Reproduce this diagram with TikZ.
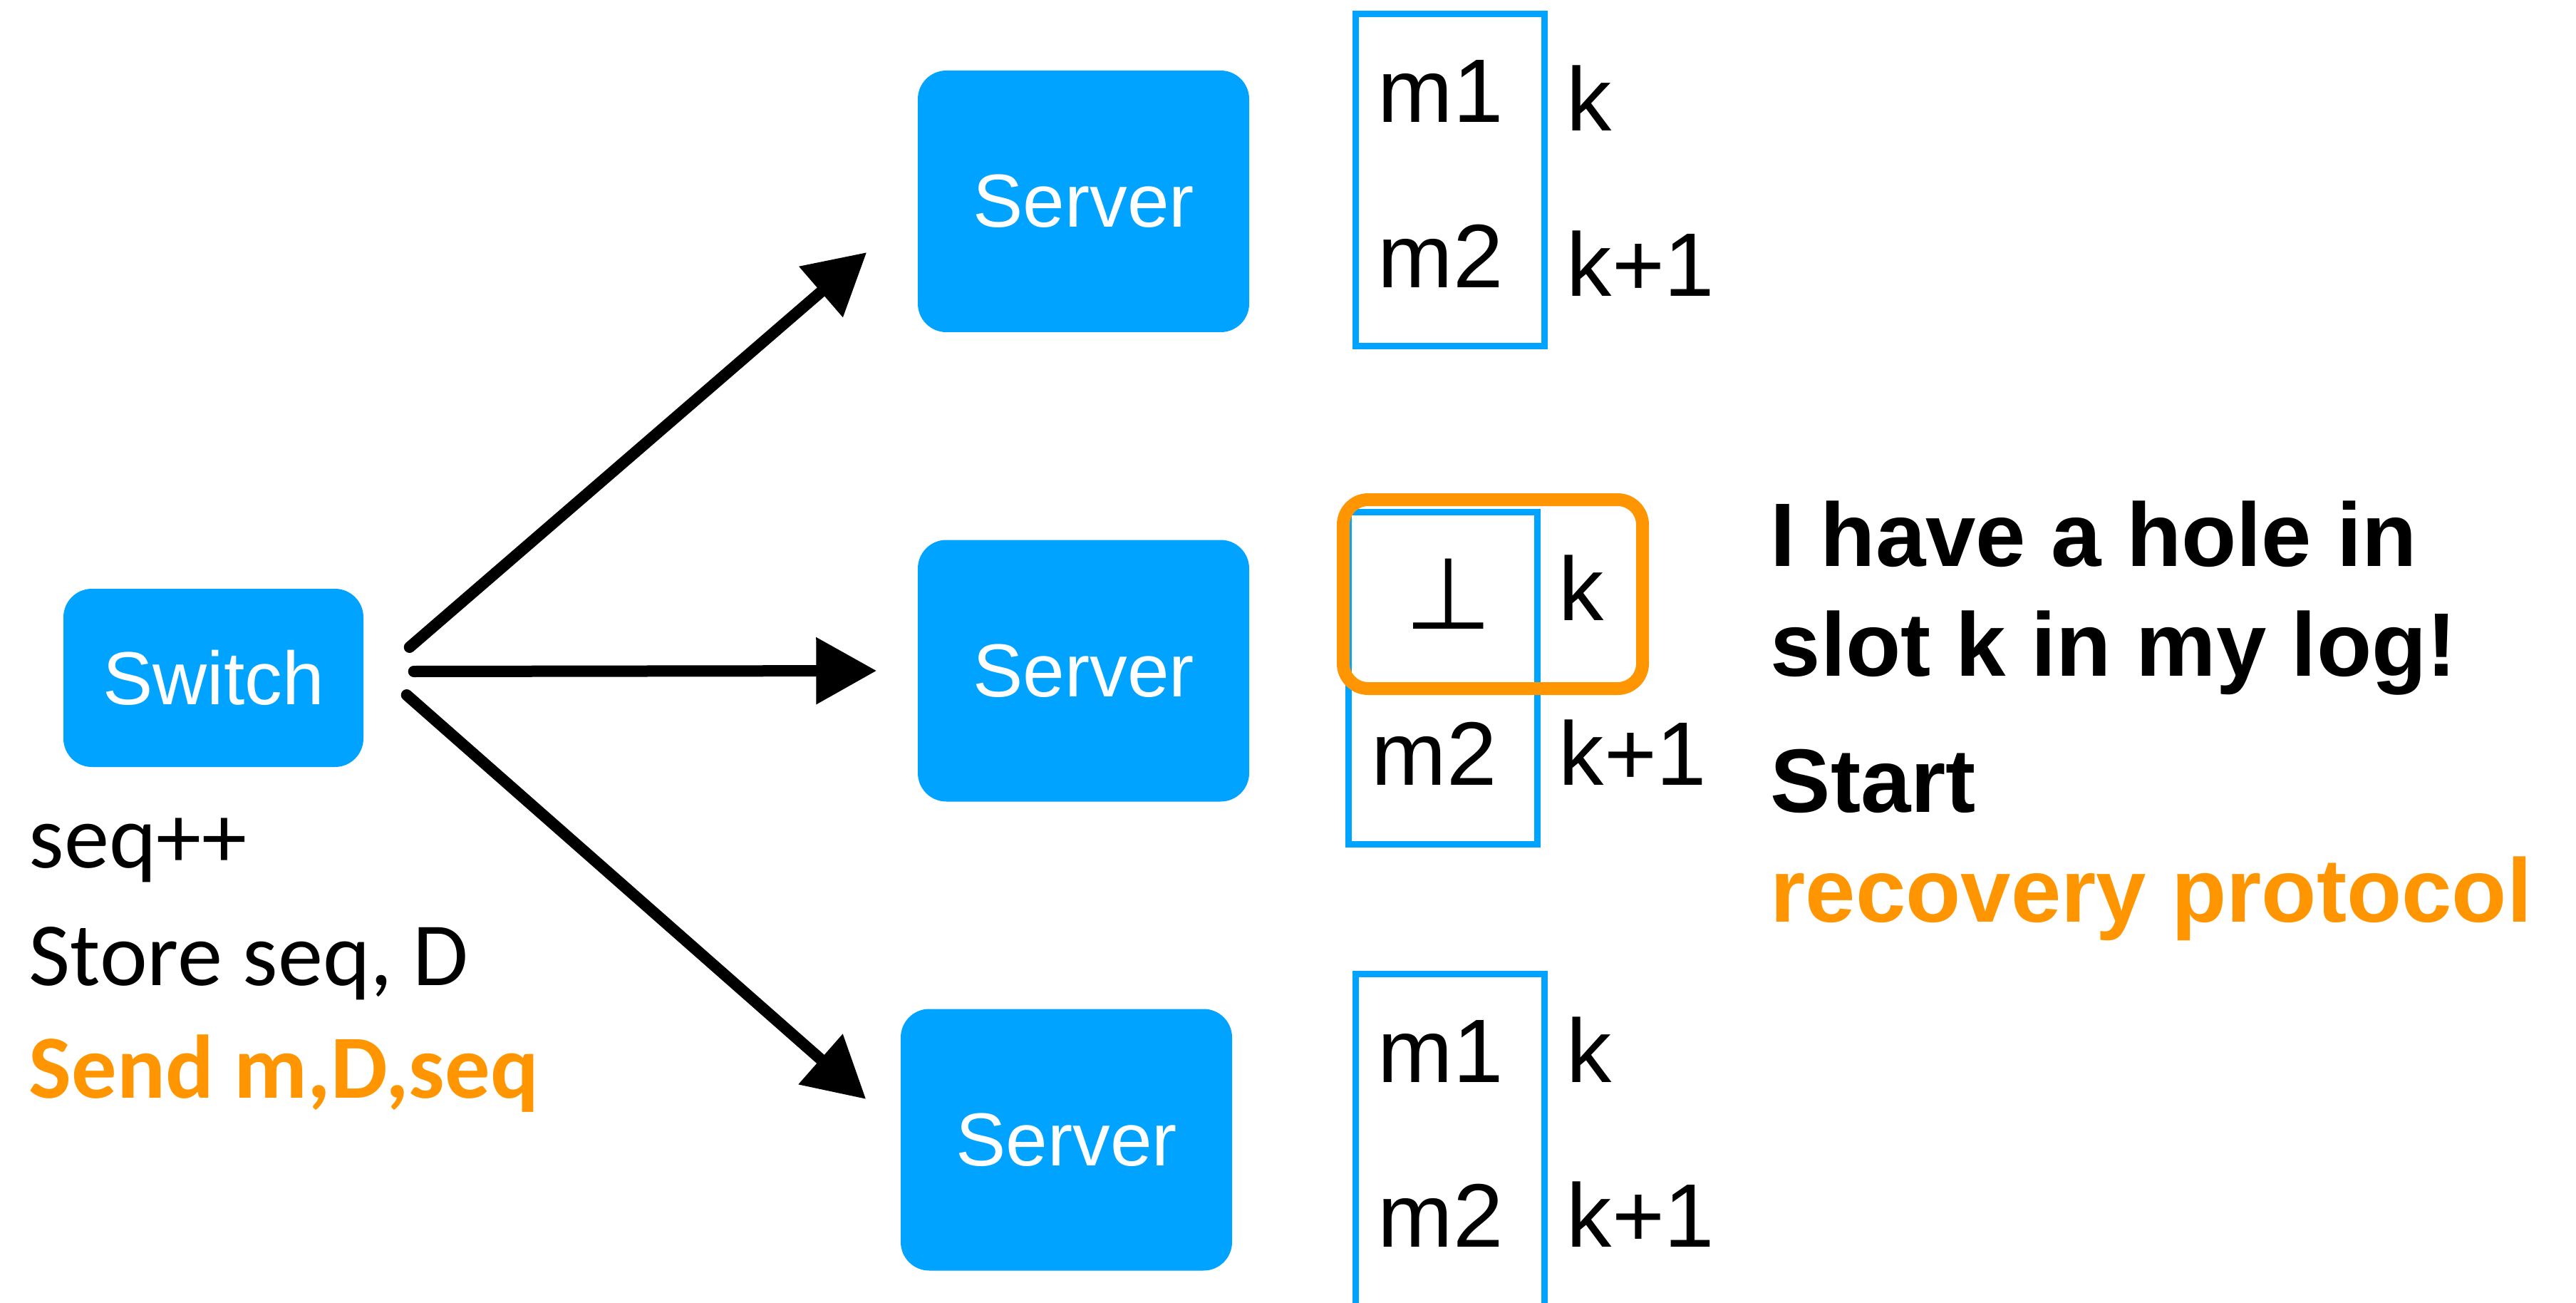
\documentclass[tikz,border=0pt]{standalone}
\usepackage{fontspec}
\setmainfont{Liberation Sans}
\newfontfamily\calibri{Carlito}
\newfontfamily\dejavu{DejaVu Sans}
\usetikzlibrary{arrows.meta}
\definecolor{srvblue}{RGB}{0,163,255}
\definecolor{holeorange}{RGB}{255,149,0}

\begin{document}
\begin{tikzpicture}[>={Triangle[length=8.5mm,width=9mm]},
  box/.style={fill=srvblue,rounded corners=4mm,text=white,inner sep=0,
    font=\fontsize{30}{36}\selectfont},
  srv/.style={box,minimum width=4.65cm,minimum height=3.67cm},
  logbox/.style={draw=srvblue,line width=0.9mm,minimum width=2.65cm,
    minimum height=4.66cm,inner sep=0},
  entry/.style={anchor=base west,inner sep=0,font=\fontsize{36}{40}\selectfont},
  note/.style={anchor=base west,inner sep=0,font=\fontsize{36}{40}\selectfont\bfseries},
  opline/.style={anchor=base west,inner sep=0,font=\calibri\fontsize{36}{40}\selectfont},
  flow/.style={->,line width=1.6mm,line cap=round}]

  \useasboundingbox (0,0) rectangle (36.15,-18.28);

  % switch and the three replicas
  \node[box,minimum width=4.21cm,minimum height=2.5cm] (sw) at (2.995,-9.51) {Switch};
  \node[srv] (srv1) at (15.205,-2.825) {Server};
  \node[srv] (srv2) at (15.205,-9.41) {Server};
  \node[srv] (srv3) at (14.965,-15.99) {Server};

  % what the switch does
  \node[opline] (inc) at (0.40,-12.17) {seq++};
  \node[opline] (store) at (0.40,-13.82) {Store seq, D};
  \node[opline,text=holeorange,font=\calibri\fontsize{36}{40}\selectfont\bfseries]
    (send) at (0.40,-15.40) {Send m,D,seq};

  \draw[flow] ([shift={(0.64,0.43)}]sw.east) -- ([shift={(-0.71,-0.715)}]srv1.west);
  \draw[flow] ([shift={(0.70,0.09)}]sw.east) -- ([shift={(-0.57,0)}]srv2.west);
  \draw[flow] ([shift={(0.60,-0.24)}]sw.east) -- ([shift={(-0.48,0.57)}]srv3.west);

  % logs
  \node[logbox] (log1) at (20.345,-2.53) {};
  \node[entry] (m1a) at (19.33,-1.72) {m1};
  \node[entry] (m2a) at (19.33,-4.04) {m2};
  \node[entry] (ka) at (21.98,-1.84) {k};
  \node[entry] (kna) at (21.98,-4.16) {k+1};

  \node[logbox] (log2) at (20.25,-9.51) {};
  \node[anchor=base,inner sep=0,font=\dejavu\fontsize{40}{44}\selectfont]
    (bot) at (20.33,-8.82) {⊥};
  \node[entry] (kb) at (21.87,-8.70) {k};
  \node[entry] (m2b) at (19.24,-11.01) {m2};
  \node[entry] (knb) at (21.87,-11.01) {k+1};

  \node[logbox,minimum height=4.8cm] (log3) at (20.345,-16.06) {};
  \node[entry] (m1c) at (19.33,-15.18) {m1};
  \node[entry] (m2c) at (19.33,-17.49) {m2};
  \node[entry] (kc) at (21.98,-15.18) {k};
  \node[entry] (knc) at (21.98,-17.49) {k+1};

  % the hole
  \draw[holeorange,line width=1.8mm,rounded corners=3.5mm] (18.85,-7.01) rectangle (23.05,-9.66);

  \node[note] (msg1) at (24.84,-7.94) {I have a hole in};
  \node[note] (msg2) at (24.84,-9.48) {slot k in my log!};
  \node[note] (msg3) at (24.84,-11.39) {Start};
  \node[note,text=holeorange] (msg4) at (24.84,-12.93) {recovery protocol};
\end{tikzpicture}
\end{document}
